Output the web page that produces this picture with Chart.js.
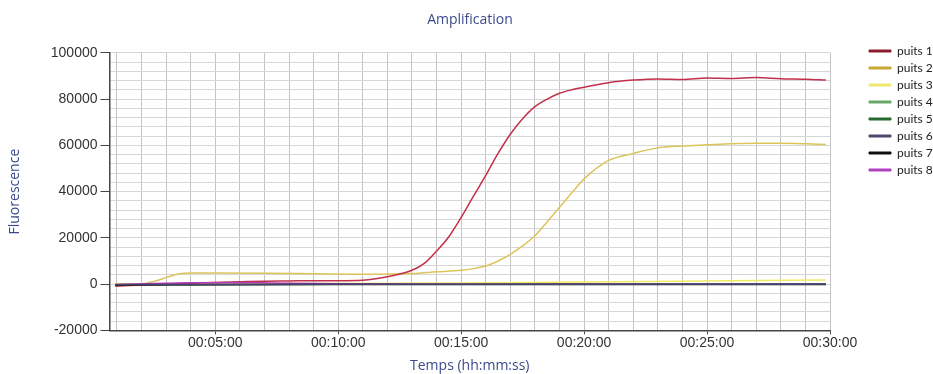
<!DOCTYPE html>
<html>
<head>
<meta charset="utf-8">
<script src="https://cdn.jsdelivr.net/npm/chart.js@4.4.1/dist/chart.umd.min.js"></script>
<style>
    html, body { margin: 0; padding: 0; background: #fff; }
    #wrap { width: 933px; height: 374px; }
</style>
</head>
<body>
<div id="wrap"><canvas id="amplificationChart" width="933" height="374"></canvas></div>
<script>
// amplification curves, x in seconds, y in fluorescence units

const seriesNames = ['puits 1', 'puits 2', 'puits 3', 'puits 4', 'puits 5', 'puits 6', 'puits 7', 'puits 8'];
const seriesColors = ['#c2304b', '#dcc45a', '#f0ea62', '#6fae6f', '#2d6a33', '#43436e', '#111111', '#b03cc0'];
const legendColors = ['#8a1c2c', '#c8a832', '#f0e870', '#6aa86a', '#2a6a30', '#4a4a6e', '#111111', '#b040c0'];
// drawing order, lower is on top
const drawOrder = [3, 4, 5, 6, 7, 0, 1, 2];

const puits1 = [[56, -900], [120, -400], [180, 0], [240, 400], [300, 700], [360, 1000], [420, 1300], [480, 1400],
    [540, 1500], [600, 1500], [660, 1700], [720, 3200], [780, 6000], [810, 9000], [840, 14300], [870, 20500],
    [900, 28800], [930, 38000], [960, 47000], [990, 56500], [1020, 64800], [1050, 71500], [1080, 76700],
    [1110, 80000], [1140, 82500], [1170, 84000], [1200, 85100], [1260, 87100], [1320, 88200], [1380, 88700],
    [1440, 88500], [1500, 89100], [1560, 88900], [1620, 89300], [1680, 88800], [1740, 88600], [1790, 88200]];
const puits2 = [[56, 0], [120, 200], [150, 1200], [180, 2800], [210, 4400], [240, 4800], [300, 4800], [420, 4700],
    [540, 4500], [660, 4300], [780, 4600], [840, 5300], [900, 6000], [930, 6700], [960, 7800], [990, 10000],
    [1020, 12900], [1050, 16500], [1080, 20900], [1110, 27000], [1140, 33200], [1170, 39500], [1200, 45500],
    [1230, 50000], [1260, 53500], [1320, 56500], [1380, 58900], [1440, 59700], [1500, 60200], [1560, 60700],
    [1620, 60900], [1680, 60900], [1740, 60700], [1790, 60400]];
const puits3 = [[56, 0], [300, 200], [600, 300], [900, 500], [1200, 900], [1500, 1400], [1790, 1800]];
const puits4 = [[56, -300], [600, 0], [1200, 100], [1790, 200]];
const puits5 = [[56, -200], [600, 0], [1200, 0], [1790, 100]];
const puits6 = [[56, -200], [600, -100], [1200, -100], [1790, -100]];
const puits7 = [[56, -400], [600, -200], [1200, -200], [1790, -200]];
const puits8 = [[56, -300], [150, 300], [240, 600], [360, 700], [480, 400], [600, 200], [900, 0], [1790, 0]];

const allSeries = [puits1, puits2, puits3, puits4, puits5, puits6, puits7, puits8];

const xMin = 42;
const xMax = 1800;
const yMin = -20000;
const yMax = 100000;
const yMinorStep = 4000;
const yLabelStep = 20000;
const xMinorStep = 60;
const xLabelStep = 300;

function hms(sec) {
    const h = Math.floor(sec / 3600);
    const m = Math.floor((sec % 3600) / 60);
    const s = sec % 60;
    return [h, m, s].map(n => String(n).padStart(2, '0')).join(':');
}

const datasets = allSeries.map((pts, i) => ({
    label: seriesNames[i],
    data: pts.map(p => ({x: p[0], y: p[1]})),
    borderColor: seriesColors[i],
    backgroundColor: legendColors[i],
    borderWidth: 1.5,
    pointRadius: 0,
    cubicInterpolationMode: 'monotone',
    order: drawOrder[i]
}));

const blue = '#3c4a8c';

// the legend sits in the top right corner, away from the plot
const legendCorner = {
    id: 'legendCorner',
    afterLayout(chart) {
        const lg = chart.legend;
        lg.left = 864;
        lg.right = chart.width;
        lg.top = 40;
    }
};

new Chart(document.getElementById('amplificationChart'), {
    type: 'line',
    data: { datasets: datasets },
    plugins: [legendCorner],
    options: {
        responsive: false,
        devicePixelRatio: 1,
        animation: false,
        layout: { padding: { left: 7, right: 0, top: 8, bottom: 0 } },
        plugins: {
            title: {
                display: true,
                text: 'Amplification',
                color: blue,
                font: { family: 'Open Sans', size: 14, weight: 'normal' },
                padding: { top: 4, bottom: 24 }
            },
            legend: {
                position: 'right',
                align: 'start',
                labels: {
                    color: '#222',
                    font: { family: 'Lato', size: 12 },
                    boxWidth: 22,
                    boxHeight: 2,
                    padding: 5,
                    // keep the legend in well order whatever the drawing order
                    generateLabels: chart => chart.data.datasets.map((ds, i) => ({
                        text: ds.label,
                        fillStyle: legendColors[i],
                        strokeStyle: legendColors[i],
                        lineWidth: 1,
                        fontColor: '#222',
                        datasetIndex: i
                    }))
                }
            },
            tooltip: { enabled: false }
        },
        scales: {
            x: {
                type: 'linear',
                min: xMin,
                max: xMax,
                afterBuildTicks: scale => {
                    const t = [];
                    for (let v = xMinorStep; v <= xMax; v += xMinorStep) t.push({value: v});
                    scale.ticks = t;
                },
                afterFit: scale => {
                    scale.paddingRight = 103;
                },
                ticks: {
                    autoSkip: false,
                    maxRotation: 0,
                    color: '#333',
                    font: { family: 'Liberation Sans', size: 14 },
                    padding: 0,
                    callback: v => (v % xLabelStep === 0 ? hms(v) : '')
                },
                grid: {
                    color: '#c4c4c4',
                    tickLength: 4,
                    tickColor: ctx => (ctx.tick && ctx.tick.value % xLabelStep === 0 ? '#444' : 'transparent')
                },
                border: { color: '#444', width: 1.5 },
                title: {
                    display: true,
                    text: 'Temps (hh:mm:ss)',
                    color: blue,
                    font: { family: 'Open Sans', size: 14 },
                    padding: { top: 6, bottom: 0 }
                }
            },
            y: {
                min: yMin,
                max: yMax,
                afterBuildTicks: scale => {
                    const t = [];
                    for (let v = yMin; v <= yMax; v += yMinorStep) t.push({value: v});
                    scale.ticks = t;
                },
                ticks: {
                    autoSkip: false,
                    color: '#333',
                    font: { family: 'Liberation Sans', size: 14 },
                    padding: 3,
                    callback: v => (v % yLabelStep === 0 ? String(v) : '')
                },
                grid: {
                    color: '#d6d6d6',
                    tickLength: 9,
                    tickColor: ctx => (ctx.tick && ctx.tick.value % yLabelStep === 0 ? '#444' : 'transparent')
                },
                border: { color: '#444', width: 1.5 },
                title: {
                    display: true,
                    text: 'Fluorescence',
                    color: blue,
                    font: { family: 'Open Sans', size: 14 },
                    padding: { top: 0, bottom: 24 }
                }
            }
        }
    }
});
</script>
</body>
</html>
